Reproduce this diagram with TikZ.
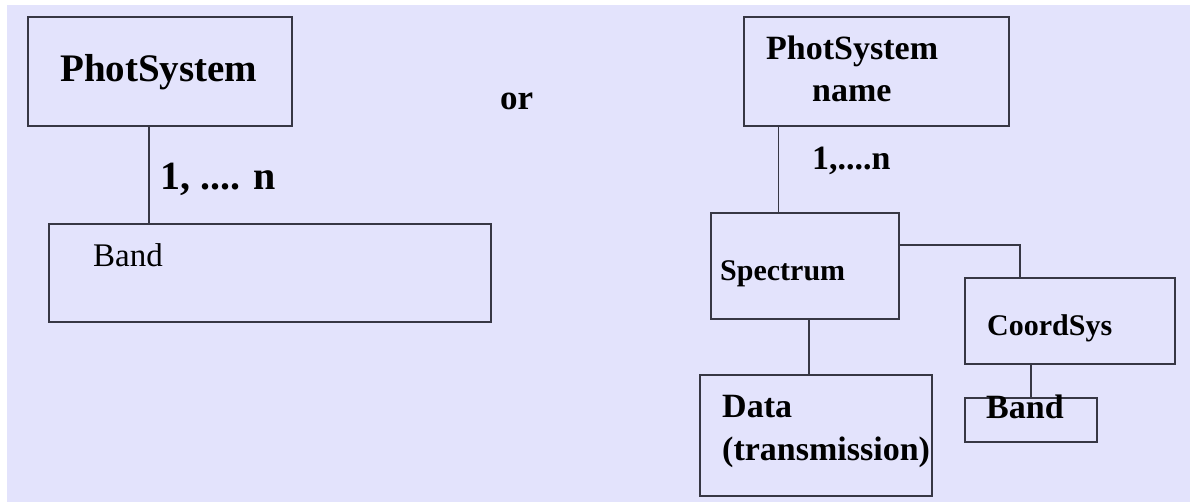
\documentclass[tikz,border=0pt]{standalone}
\usepackage{fontspec}
\setmainfont{Liberation Serif}
\usepackage{xcolor}
\definecolor{Back}{RGB}{227,227,252}
\definecolor{Line}{RGB}{55,55,68}
\usepackage{tikz}
\usetikzlibrary{positioning}
\tikzstyle{Box}=[draw=Line,line width=1.8pt,inner sep=0pt,anchor=north west]
\tikzstyle{Edge}=[draw=Line,line width=1.8pt]
\tikzstyle{Text}=[inner sep=0pt,anchor=base west,text=black]
\newcommand{\BoldAt}[1]{\bfseries\fontsize{#1}{#1}\selectfont}
\begin{document}
\begin{tikzpicture}[x=1pt,y=-1pt]
        \useasboundingbox (0,0) rectangle (1190,502);
        \fill[Back] (7,5) rectangle (1190,502);
        % left tree
        \node[Box,minimum width=264pt,minimum height=109pt](ps)at(27,16){};
        \node[Box,minimum width=442pt,minimum height=98pt](band)at(48,223){};
        \node[Text,font=\BoldAt{39}](psT)at(60,82){PhotSystem};
        \node[Text,font=\BoldAt{40}](mult)at(160,190){1, .... n};
        \node[Text,font=\fontsize{33}{33}\selectfont](bandT)at(93,267){Band};
        \draw[Edge]([xshift=-11pt]ps.south)--([xshift=-11pt]ps.south |- band.north);
        \node[Text,font=\BoldAt{35}](or)at(500,110){or};
        % right tree
        \node[Box,minimum width=265pt,minimum height=109pt](psn)at(743,16){};
        \node[Box,minimum width=188pt,minimum height=106pt](spec)at(710,212){};
        \node[Box,minimum width=210pt,minimum height=86pt](coord)at(964,277){};
        \node[Box,minimum width=232pt,minimum height=121pt](data)at(699,374){};
        \node[Box,minimum width=132pt,minimum height=44pt](band2)at(964,397){};
        \node[Text,font=\BoldAt{34}](psnT)at(766,60){PhotSystem};
        \node[Text,font=\BoldAt{34}](nameT)at(812,102){name};
        \node[Text,font=\BoldAt{34}](mult2)at(812,170){1,....n};
        \node[Text,font=\BoldAt{30}](specT)at(720,280){Spectrum};
        \node[Text,font=\BoldAt{30}](coordT)at(987,335){CoordSys};
        \node[Text,font=\BoldAt{34}](dataT)at(722,417){Data};
        \node[Text,font=\BoldAt{34}](transT)at(722,460){(transmission)};
        \node[Text,font=\BoldAt{34}](band2T)at(986,418){Band};
        \draw[Edge]([xshift=-98pt]psn.south)--([xshift=-98pt]psn.south |- spec.north);
        \draw[Edge]([yshift=-33pt]spec.north east)-|([xshift=-50pt]coord.north);
        \draw[Edge]([xshift=4pt]spec.south)--([xshift=4pt]spec.south |- data.north);
        \draw[Edge](band2.north)--(band2.north |- coord.south);
    \end{tikzpicture}
\end{document}
